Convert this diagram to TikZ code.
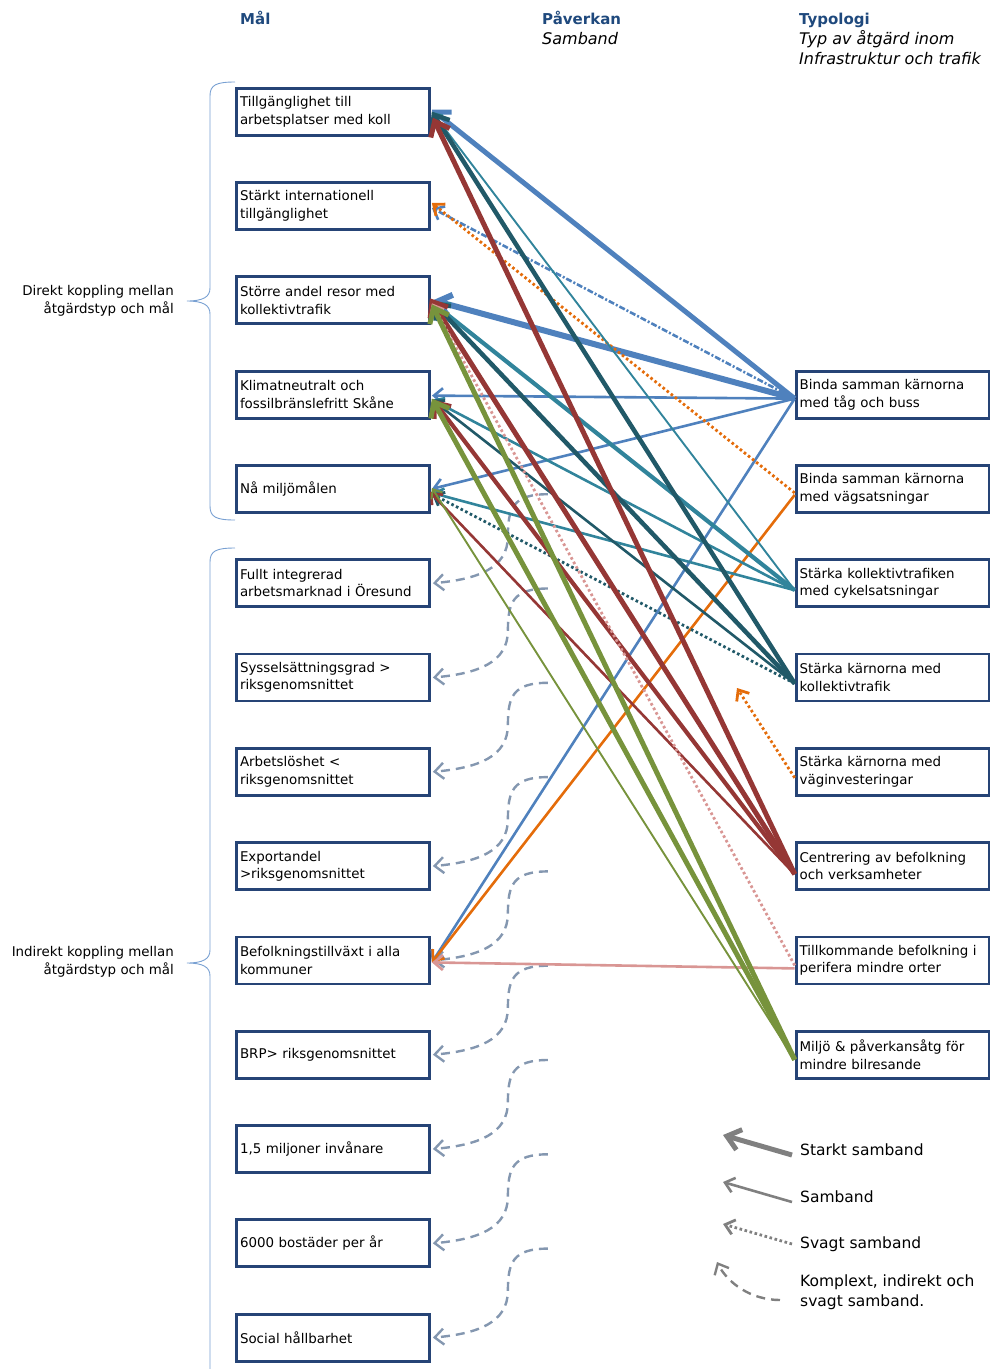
\documentclass[tikz,border=0pt]{standalone}
\usepackage{fontspec}
\setmainfont{DejaVu Sans}
\usetikzlibrary{arrows.meta, positioning}

\definecolor{hdrblue}{RGB}{31,73,125}
\definecolor{boxblue}{RGB}{38,68,118}
\definecolor{braceblue}{RGB}{120,160,210}
\definecolor{cBlue}{RGB}{79,129,189}
\definecolor{cOrange}{RGB}{228,108,10}
\definecolor{cTeal}{RGB}{49,132,155}
\definecolor{cDteal}{RGB}{33,89,104}
\definecolor{cRed}{RGB}{149,55,53}
\definecolor{cPink}{RGB}{217,150,148}
\definecolor{cGreen}{RGB}{119,147,60}
\definecolor{cGrayblue}{RGB}{132,151,176}
\definecolor{legGray}{RGB}{128,128,128}

\begin{document}
\begin{tikzpicture}[
    x=1pt, y=-1pt,
    font=\fontsize{13.4}{17.5}\selectfont,
    goal/.style={draw=boxblue, line width=2.8pt, minimum width=193pt, minimum height=47pt,
                 text width=186pt, inner sep=3.5pt, align=left},
    hdr/.style={anchor=north west, align=left, inner sep=0pt,
                font=\fontsize{16}{20}\selectfont},
    bracelbl/.style={anchor=east, align=right, inner sep=0pt},
    leglbl/.style={anchor=west, align=left, inner sep=0pt,
                   font=\fontsize{15.5}{20}\selectfont},
    brace/.style={draw=braceblue, line width=0.9pt},
    stark/.style={-{Straight Barb[length=13pt, width=21pt]}, line width=5pt},
    mellan/.style={-{Straight Barb[length=9pt, width=15pt]}, line width=2.6pt},
    smal/.style={-{Straight Barb[length=8pt, width=13pt]}, line width=1.9pt},
    svag/.style={-{Straight Barb[length=9pt, width=15pt]}, line width=2.8pt,
                 dash pattern=on 2.6pt off 2.6pt},
    svagdash/.style={-{Straight Barb[length=9pt, width=15pt]}, line width=2.6pt,
                     dash pattern=on 6pt off 2pt on 2pt off 2pt},
    komplex/.style={-{Straight Barb[length=9pt, width=16pt]}, line width=2.4pt,
                    dash pattern=on 9pt off 6pt},
]
    \useasboundingbox (0,0) rectangle (990,1369);

    %==================== HEADERS ====================
    \node[hdr] (mal) at (240,11) {{\fontsize{15}{20}\selectfont\bfseries\color{hdrblue}Mål}};
    \node[hdr] (paverkan) at (542,11)
        {{\fontsize{15}{20}\selectfont\bfseries\color{hdrblue}Påverkan}\\
         \itshape Samband};
    \node[hdr] (typologi) at (799,13)
        {{\fontsize{15}{20}\selectfont\bfseries\color{hdrblue}Typologi}\\
         {\itshape Typ av åtgärd inom}\\
         {\itshape Infrastruktur och trafik}};

    %==================== GOALS (left) ====================
    \node[goal] (l1) at (333,111.7) {Tillgänglighet till\\arbetsplatser med koll};
    \node[goal, below=44.5pt of l1] (l2) {Stärkt internationell\\tillgänglighet};
    \node[goal, below=44.5pt of l2] (l3) {Större andel resor med\\kollektivtrafik};
    \node[goal, below=44.5pt of l3] (l4) {Klimatneutralt och\\fossilbränslefritt Skåne};
    \node[goal, below=44.5pt of l4] (l5) {Nå miljömålen};
    \node[goal, below=44.5pt of l5] (l6) {Fullt integrerad\\arbetsmarknad i Öresund};
    \node[goal, below=44.5pt of l6] (l7) {Sysselsättningsgrad >\\riksgenomsnittet};
    \node[goal, below=44.5pt of l7] (l8) {Arbetslöshet <\\riksgenomsnittet};
    \node[goal, below=44.5pt of l8] (l9) {Exportandel\\>riksgenomsnittet};
    \node[goal, below=44.5pt of l9] (l10) {Befolkningstillväxt i alla\\kommuner};
    \node[goal, below=44.5pt of l10] (l11) {BRP> riksgenomsnittet};
    \node[goal, below=44.5pt of l11] (l12) {1,5 miljoner invånare};
    \node[goal, below=44.5pt of l12] (l13) {6000 bostäder per år};
    \node[goal, below=44.5pt of l13] (l14) {Social hållbarhet};

    %==================== MEASURES (right) ====================
    \node[goal, right=363.8pt of l4] (r1) {Binda samman kärnorna\\med tåg och buss};
    \node[goal, below=44.5pt of r1] (r2) {Binda samman kärnorna\\med vägsatsningar};
    \node[goal, below=44.5pt of r2] (r3) {Stärka kollektivtrafiken\\med cykelsatsningar};
    \node[goal, below=44.5pt of r3] (r4) {Stärka kärnorna med\\kollektivtrafik};
    \node[goal, below=44.5pt of r4] (r5) {Stärka kärnorna med\\väginvesteringar};
    \node[goal, below=44.5pt of r5] (r6) {Centrering av befolkning\\och verksamheter};
    \node[goal, below=44.5pt of r6] (r7) {Tillkommande befolkning i\\perifera mindre orter};
    \node[goal, below=44.5pt of r7] (r8) {Miljö \& påverkansåtg för\\mindre bilresande};

    %==================== BRACES ====================
    \draw[brace] (235,82) .. controls (216,82) and (210,85) .. (210,96) -- (210,288)
        .. controls (210,297) and (203,301) .. (187,301)
        .. controls (203,301) and (210,305) .. (210,314) -- (210,506)
        .. controls (210,517) and (216,520) .. (235,520);
    \draw[brace] (235,548) .. controls (216,548) and (210,551) .. (210,562) -- (210,950)
        .. controls (210,959) and (203,963) .. (187,963)
        .. controls (203,963) and (210,967) .. (210,976) -- (210,1380);
    \node[bracelbl] (direkt) at (174,301) {Direkt koppling mellan\\åtgärdstyp och mål};
    \node[bracelbl] (indirekt) at (174,962) {Indirekt koppling mellan\\åtgärdstyp och mål};

    %==================== INDIRECT (dashed) ====================
    \foreach \i in {6,...,14} {
        \coordinate (c\i) at ([xshift=117pt, yshift=89pt]l\i.east);
        \draw[komplex, cGrayblue] (c\i) .. controls +(-35,0) and +(0,-28) .. ++(-40,42)
            .. controls +(0,32) and +(45,-4) .. ([xshift=2pt]l\i.east);
    }

    %==================== R1: tåg och buss ====================
    \draw[stark, cBlue] ([yshift=-4pt]r1.west) -- ([xshift=1pt, yshift=2pt]l1.east);
    \draw[svagdash, cBlue] ([yshift=-4pt]r1.west) -- ([xshift=1pt, yshift=-2pt]l2.east);
    \draw[stark, cBlue, line width=6pt] ([yshift=-4pt]r1.west) -- ([xshift=2pt]l3.east);
    \draw[mellan, cBlue] ([yshift=-4pt]r1.west) -- ([xshift=1pt, yshift=-1pt]l4.east);
    \draw[mellan, cBlue] ([yshift=-4pt]r1.west) -- ([xshift=1pt]l5.east);
    \draw[mellan, cBlue] ([yshift=-4pt]r1.west) -- ([xshift=1pt, yshift=-2pt]l10.east);

    %==================== R2: vägsatsningar ====================
    \draw[svag, cOrange] ([yshift=-4pt]r2.west) -- ([xshift=1pt, yshift=3pt]l2.east);
    \draw[mellan, cOrange] ([yshift=-6pt]r2.west) -- ([xshift=1pt, yshift=-2pt]l10.east);

    %==================== R3: cykelsatsningar ====================
    \draw[smal, cTeal] ([yshift=-7pt]r3.west) -- ([xshift=1pt]l1.east);
    \draw[stark, cTeal, line width=4.2pt] ([yshift=-7pt]r3.west) -- ([xshift=1pt, yshift=-2pt]l3.east);
    \draw[mellan, cTeal] ([yshift=-7pt]r3.west) -- ([xshift=1pt, yshift=-5pt]l4.east);
    \draw[mellan, cTeal] ([yshift=-7pt]r3.west) -- ([xshift=1pt, yshift=-4pt]l5.east);

    %==================== R4: kärnorna kollektivtrafik ====================
    \draw[stark, cDteal, line width=4.5pt] ([yshift=-6pt]r4.west) -- ([xshift=1pt]l1.east);
    \draw[stark, cDteal, line width=4.5pt] ([yshift=-6pt]r4.west) -- ([xshift=1pt, yshift=-1pt]l3.east);
    \draw[mellan, cDteal] ([yshift=-6pt]r4.west) -- ([xshift=1pt, yshift=-5pt]l4.east);
    \draw[svag, cDteal] ([yshift=-6pt]r4.west) -- ([xshift=1pt, yshift=-5pt]l5.east);

    %==================== R5: väginvesteringar ====================
    \coordinate (r5tip) at (737,688);
    \draw[svag, cOrange] ([yshift=-6pt]r5.west) -- (r5tip);

    %==================== R6: centrering ====================
    \draw[stark, cRed] ([yshift=-8pt]r6.west) -- ([xshift=2pt, yshift=-6pt]l1.east);
    \draw[stark, cRed] ([yshift=-8pt]r6.west) -- ([xshift=-1pt, yshift=2pt]l3.east);
    \draw[stark, cRed, line width=4.2pt] ([yshift=-8pt]r6.west) -- ([xshift=2pt, yshift=-5pt]l4.east);
    \draw[mellan, cRed] ([yshift=-8pt]r6.west) -- ([xshift=-1pt, yshift=-3pt]l5.east);

    %==================== R7: perifera orter ====================
    \draw[svag, cPink] ([yshift=-5pt]r7.west) -- ([xshift=1pt, yshift=-3pt]l3.east);
    \draw[mellan, cPink] ([yshift=-8pt]r7.west) -- ([xshift=1pt, yshift=-2pt]l10.east);

    %==================== R8: miljö & påverkan ====================
    \draw[stark, cGreen] ([yshift=-5pt]r8.west) -- ([xshift=1pt, yshift=-4pt]l3.east);
    \draw[stark, cGreen] ([yshift=-5pt]r8.west) -- ([xshift=1pt, yshift=-4pt]l4.east);
    \draw[smal, cGreen] ([yshift=-5pt]r8.west) -- ([xshift=1pt, yshift=1pt]l5.east);

    %==================== LEGEND ====================
    \node[leglbl] (leg1) at (800,1150) {Starkt samband};
    \node[leglbl] (leg2) at (800,1197) {Samband};
    \node[leglbl] (leg3) at (800,1244) {Svagt samband};
    \node[leglbl] (leg4) at (800,1292) {Komplext, indirekt och\\svagt samband.};
    \coordinate (lt1) at (723,1135);
    \coordinate (lt2) at (723,1182);
    \coordinate (lt3) at (723,1224);
    \coordinate (lt4) at (717,1262);
    \draw[stark, legGray] ([xshift=-8pt, yshift=-5pt]leg1.west) -- (lt1);
    \draw[mellan, legGray] ([xshift=-8pt, yshift=-5pt]leg2.west) -- (lt2);
    \draw[svag, legGray] ([xshift=-8pt]leg3.west) -- (lt3);
    \draw[komplex, legGray] ([xshift=-20pt, yshift=-8pt]leg4.west)
        .. controls +(-30,0) and +(10,20) .. (lt4);

\end{tikzpicture}
\end{document}
